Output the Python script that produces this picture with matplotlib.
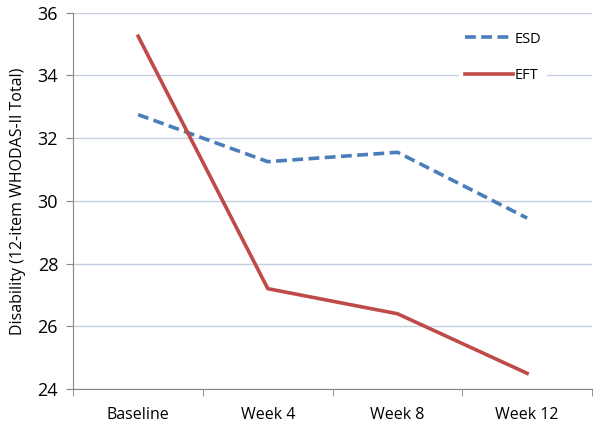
import matplotlib
matplotlib.use("Agg")
import matplotlib.pyplot as plt

# timepoints and group means
timepoints = ["Baseline", "Week 4", "Week 8", "Week 12"]
esd = [32.75, 31.25, 31.55, 29.45]
eft = [35.25, 27.2, 26.4, 24.5]

plt.rcParams["font.family"] = ["Open Sans", "DejaVu Sans"]

fig = plt.figure(figsize=(6.01, 4.32), dpi=100)
ax = fig.add_axes([0.122, 0.0995, 0.863, 0.871])

x = list(range(len(timepoints)))
ax.plot(x, esd, color="#4a7ebb", lw=2.6, ls=(0, (3, 1.5)), label="ESD")
ax.plot(x, eft, color="#be4b48", lw=2.6, label="EFT")

ax.set_ylim(24, 36)
ax.set_yticks(range(24, 37, 2))
ax.set_xlim(-0.5, 3.5)
ax.set_xticks(x)
ax.set_xticklabels(timepoints)
ax.set_xticks([i - 0.5 for i in range(len(timepoints) + 1)], minor=True)
ax.tick_params(axis="x", which="major", length=0, pad=13, labelsize=11.5)
ax.tick_params(axis="x", which="minor", length=5, color="#868686")
ax.tick_params(axis="y", length=5, color="#868686", labelsize=13, pad=6)

ax.grid(axis="y", color="#c5d1e3", lw=1)
ax.set_axisbelow(True)
for s in ["top", "right"]:
    ax.spines[s].set_visible(False)
for s in ["left", "bottom"]:
    ax.spines[s].set_color("#868686")

ax.set_ylabel("Disability (12-item WHODAS-II Total)", fontsize=11.5, labelpad=8)

leg = ax.legend(loc="upper left", bbox_to_anchor=(0.73, 0.985), frameon=True,
                fancybox=False, edgecolor="none", framealpha=1, fontsize=10.5,
                handlelength=3.3, handletextpad=0.1, labelspacing=1.5,
                borderpad=0.4)

fig.savefig("out.png", dpi=100)
